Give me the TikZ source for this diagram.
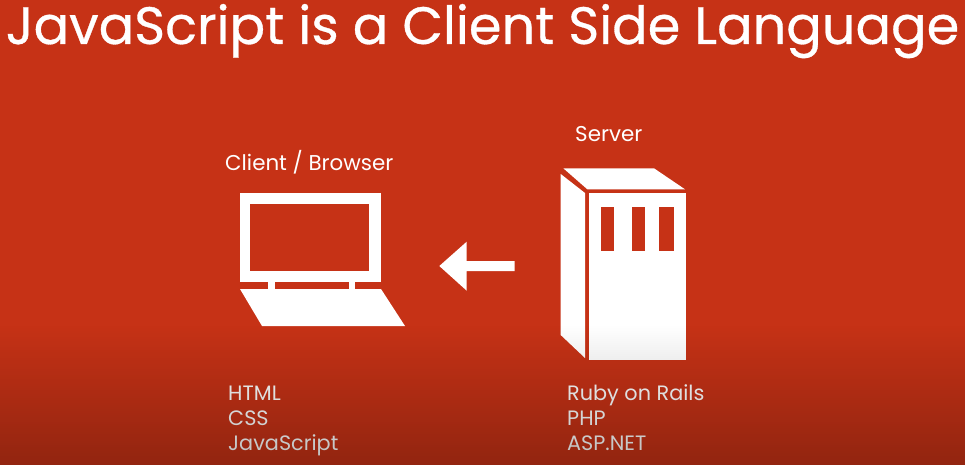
\documentclass[tikz,border=0pt]{standalone}
\usepackage{fontspec}
\setmainfont{Poppins}
\newfontfamily\titlefont[FakeBold=0.6]{Poppins}
\usetikzlibrary{fadings}
\definecolor{bgred}{HTML}{C63216}
\tikzfading[name=bottomdark, top color=transparent!100, bottom color=transparent!74]
\tikzset{
  shapewhite/.style={fill=white, draw=none},
  hole/.style={fill=bgred, draw=none},
  title/.style={text=white, font=\titlefont\fontsize{52.6}{60}\selectfont, inner sep=0pt},
  heading/.style={text=white, font=\fontsize{21.4}{25}\selectfont, anchor=base west, inner sep=0pt},
  tech/.style={text=white, font=\fontsize{20.8}{25}\selectfont, anchor=base west, inner sep=0pt}
}
\begin{document}
\begin{tikzpicture}[x=1pt,y=-1pt]
\useasboundingbox (0,0) rectangle (965,465);
\fill[bgred] (0,0) rectangle (965,465);
% title
\node[title, anchor=base] (title) at (482.5,44) {JavaScript is a Client Side Language};
% laptop
\fill[shapewhite] (240,193) rectangle (381,282);
\fill[hole] (250,203.5) rectangle (369,271);
\fill[shapewhite] (268.3,282) rectangle (274.6,289);
\fill[shapewhite] (349.3,282) rectangle (355,289);
\fill[shapewhite] (240,289) -- (381,289) -- (405,326) -- (262,326) -- cycle;
% arrow
\fill[shapewhite] (439.3,266) -- (466.7,241.7) -- (466.7,261) -- (514.7,261) -- (514.7,271) -- (466.7,271) -- (466.7,290.7) -- cycle;
% server
\fill[shapewhite] (560.7,174) -- (585,193) -- (585,358) -- (560.7,335) -- cycle;
\fill[shapewhite] (563.3,168.3) -- (654,168.3) -- (685,189.3) -- (587.3,189.3) -- cycle;
\fill[shapewhite] (589.3,193.3) rectangle (686,360);
\fill[hole] (601.3,207.3) rectangle (614,250.7);
\fill[hole] (632,207.3) rectangle (645,250.7);
\fill[hole] (659.3,207.3) rectangle (674.3,250.7);
% labels
\node[heading] (client) at (225,171) {Client / Browser};
\node[heading] (server) at (575,142) {Server};
\node[tech] (html) at (228,400) {HTML};
\node[tech] (css) at (228,425) {CSS};
\node[tech] (js) at (228,450) {JavaScript};
\node[tech] (ruby) at (567,400) {Ruby on Rails};
\node[tech] (php) at (567,425) {PHP};
\node[tech] (asp) at (567,450) {ASP.NET};
% bottom darkening
\fill[black, path fading=bottomdark] (0,325) rectangle (965,465);
\end{tikzpicture}
\end{document}
